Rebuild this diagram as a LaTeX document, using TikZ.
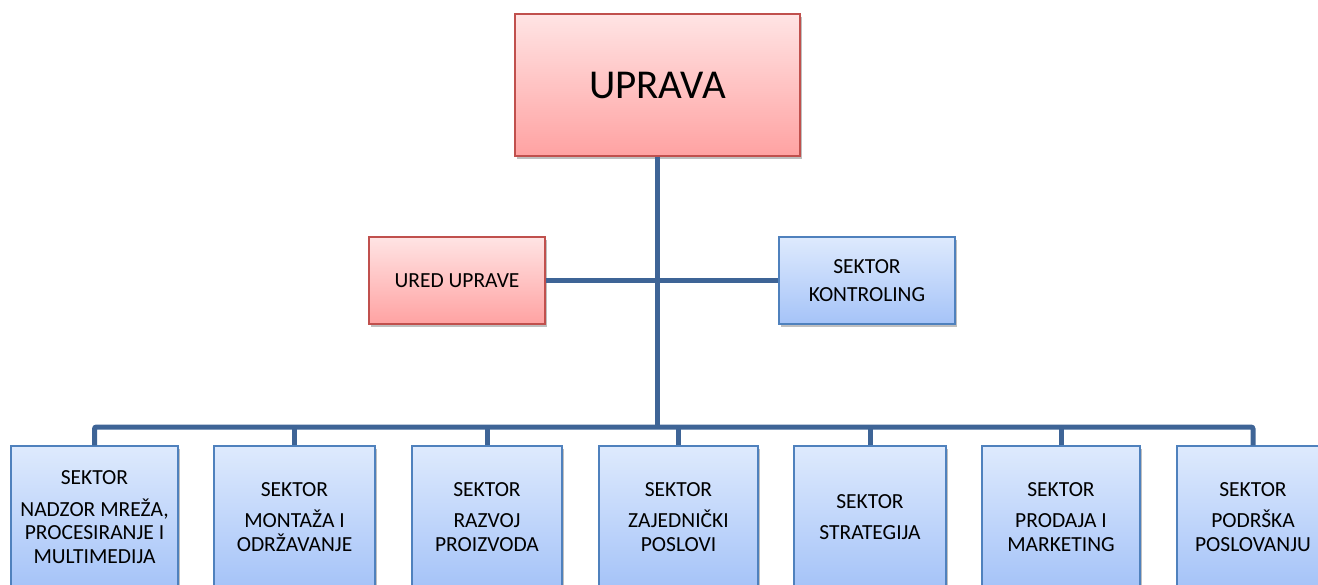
\documentclass[tikz,border=0pt]{standalone}
\usepackage{fontspec}
\setmainfont{Carlito}
\usetikzlibrary{shadows}
\definecolor{redtop}{HTML}{FFE4E4}
\definecolor{redbot}{HTML}{FFA2A2}
\definecolor{redline}{HTML}{C0504D}
\definecolor{bluetop}{HTML}{DEEAFD}
\definecolor{bluebot}{HTML}{A5C3F8}
\definecolor{blueline}{HTML}{4F81BD}
\definecolor{linkcol}{HTML}{3E6496}
\begin{document}
\begin{tikzpicture}[x=1pt,y=-1pt,
	redbox/.style={draw=redline,line width=1.4pt,top color=redtop,bottom color=redbot,
		drop shadow={shadow xshift=2pt,shadow yshift=-3pt,opacity=0.25,fill=black},
		inner sep=0pt,align=center,font=\fontsize{21.5}{24}\selectfont},
	bluebox/.style={draw=blueline,line width=1.4pt,top color=bluetop,bottom color=bluebot,
		drop shadow={shadow xshift=2pt,shadow yshift=-3pt,opacity=0.25,fill=black},
		inner sep=0pt,align=center,font=\fontsize{21.5}{23.5}\selectfont},
	link/.style={draw=linkcol,line width=5pt}]
		\useasboundingbox (0,0) rectangle (1318,584);
		\clip (0,0) rectangle (1318,584);

		\coordinate (BUS) at (657.5,427);

		\node [redbox,minimum width=285pt,minimum height=142pt,font=\fontsize{41}{46}\selectfont](UPRAVA) at (657.5,85) {UPRAVA};
		\node [redbox,minimum width=176pt,minimum height=87pt](URED) at (457,280.5) {URED UPRAVE};
		\node [bluebox,minimum width=176pt,minimum height=87pt](KONTROLING) at (867,280.5) {SEKTOR\\[4pt] KONTROLING};

		\node [bluebox,minimum width=167pt,minimum height=142pt](NADZOR) at (94.5,517) {SEKTOR\\[8pt] NADZOR MREŽA,\\ PROCESIRANJE I\\ MULTIMEDIJA};
		\node [bluebox,minimum width=161pt,minimum height=142pt](MONTAZA) at (294.5,517) {SEKTOR\\[8pt] MONTAŽA I\\ ODRŽAVANJE};
		\node [bluebox,minimum width=150pt,minimum height=142pt](RAZVOJ) at (487,517) {SEKTOR\\[8pt] RAZVOJ\\ PROIZVODA};
		\node [bluebox,minimum width=159pt,minimum height=142pt](ZAJEDNICKI) at (678.5,517) {SEKTOR\\[8pt] ZAJEDNIČKI\\ POSLOVI};
		\node [bluebox,minimum width=152pt,minimum height=142pt](STRATEGIJA) at (870,517) {SEKTOR\\[8pt] STRATEGIJA};
		\node [bluebox,minimum width=158pt,minimum height=142pt](PRODAJA) at (1061,517) {SEKTOR\\[8pt] PRODAJA I\\ MARKETING};
		\node [bluebox,minimum width=152pt,minimum height=142pt](PODRSKA) at (1253,517) {SEKTOR\\[8pt] PODRŠKA\\ POSLOVANJU};

		% upper links
		\draw [link] (UPRAVA.south) -- (BUS);
		\draw [link] (URED.east) -- (KONTROLING.west);

		% bus to the sectors
		\draw [link,rounded corners=2pt] (NADZOR.north) |- (BUS) -| (PODRSKA.north);
		\draw [link] (MONTAZA.north) -- (MONTAZA.north |- BUS);
		\draw [link] (RAZVOJ.north) -- (RAZVOJ.north |- BUS);
		\draw [link] (ZAJEDNICKI.north) -- (ZAJEDNICKI.north |- BUS);
		\draw [link] (STRATEGIJA.north) -- (STRATEGIJA.north |- BUS);
		\draw [link] (PRODAJA.north) -- (PRODAJA.north |- BUS);

	\end{tikzpicture}
\end{document}
